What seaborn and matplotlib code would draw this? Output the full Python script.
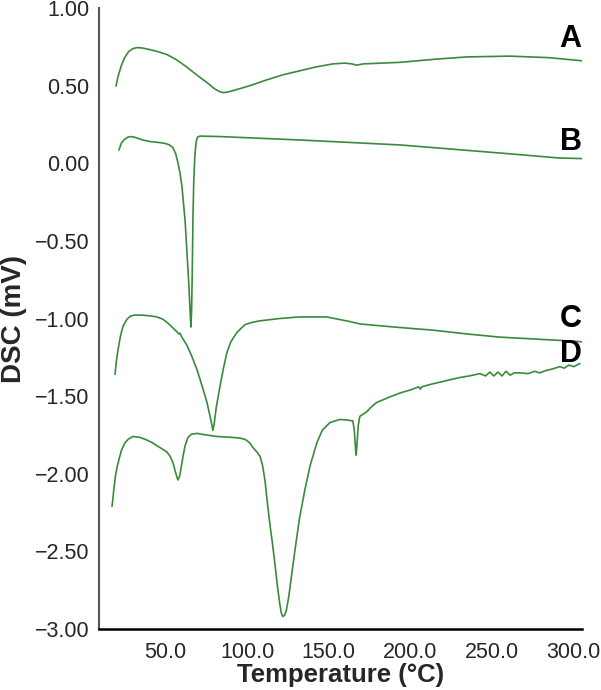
import numpy as np
import pandas as pd
import matplotlib
matplotlib.use("Agg")
from matplotlib import pyplot as plt
from matplotlib.ticker import FuncFormatter
import seaborn as sns

# DSC traces: temperature (°C) and signal (mV)
temp_A = [19.7, 21.0, 23.0, 25.0, 27.5, 30.0, 32.5, 36.0, 40.0, 45.0, 51.0, 57.0,
          63.0, 69.0, 75.4, 80.0, 83.0, 85.2, 88.0, 92.0, 97.0, 101.7, 112.0,
          122.0, 132.0, 142.0, 152.5, 160.0, 164.0, 167.0, 171.0, 193.5, 215.0,
          234.5, 261.0, 285.0, 305.0]
dsc_A = [0.497, 0.56, 0.63, 0.68, 0.72, 0.738, 0.745, 0.742, 0.733, 0.72, 0.70,
         0.665, 0.62, 0.57, 0.52, 0.48, 0.462, 0.455, 0.458, 0.47, 0.485, 0.50,
         0.537, 0.57, 0.595, 0.62, 0.64, 0.645, 0.64, 0.632, 0.64, 0.65, 0.67,
         0.685, 0.69, 0.68, 0.66]

temp_B = [21.5, 23.0, 25.0, 27.0, 29.0, 32.0, 36.0, 40.5, 46.6, 50.0, 52.5, 54.6,
          56.3, 57.7, 59.0, 60.1, 62.0, 63.2, 64.4, 65.2, 65.6, 66.0, 66.4, 66.8,
          67.3, 68.0, 68.8, 69.6, 71.1, 83.4, 132.0, 193.5, 254.7, 291.0, 305.0]
dsc_B = [0.085, 0.13, 0.155, 0.168, 0.172, 0.165, 0.15, 0.14, 0.133, 0.127, 0.118,
         0.10, 0.06, 0.0, -0.07, -0.15, -0.37, -0.58, -0.80, -0.98, -1.055, -0.95,
         -0.70, -0.37, -0.12, 0.05, 0.14, 0.168, 0.175, 0.172, 0.15, 0.118, 0.066,
         0.034, 0.03]

temp_C = [19.1, 20.0, 21.0, 22.5, 24.0, 26.4, 28.5, 31.0, 35.0, 40.0, 44.8, 48.5,
          51.5, 54.5, 57.0, 58.2, 59.0, 60.0, 63.0, 66.0, 69.3, 72.0, 75.4, 77.5,
          78.5, 79.0, 79.8, 81.0, 83.3, 85.5, 87.6, 90.0, 93.7, 98.6, 103.0, 107.8,
          120.0, 132.0, 148.8, 163.0, 169.0, 190.0, 213.7, 235.0, 254.7, 289.6,
          305.0]
dsc_C = [-1.36, -1.27, -1.20, -1.11, -1.05, -1.005, -0.985, -0.978, -0.978, -0.982,
         -0.99, -1.005, -1.03, -1.06, -1.085, -1.10, -1.095, -1.12, -1.17, -1.24,
         -1.33, -1.42, -1.54, -1.64, -1.69, -1.72, -1.68, -1.58, -1.44, -1.32,
         -1.22, -1.15, -1.09, -1.04, -1.025, -1.015, -1.0, -0.99, -0.99, -1.02,
         -1.035, -1.055, -1.075, -1.10, -1.12, -1.14, -1.15]

temp_D = [17.3, 18.3, 19.3, 20.3, 21.5, 23.0, 25.2, 27.5, 30.1, 34.0, 38.0, 42.0,
          44.8, 48.0, 50.9, 53.0, 54.6, 56.0, 57.6, 58.6, 59.6, 60.7, 62.0, 63.8,
          66.0, 69.3, 75.0, 81.5, 90.0, 95.6, 99.0, 101.5, 103.5, 106.0, 108.0,
          109.5, 111.0, 112.5, 114.0, 115.5, 117.0, 118.5, 120.0, 121.0, 121.9,
          123.0, 124.0, 125.5, 127.0, 129.3, 132.0, 135.4, 138.5, 142.7, 146.0,
          150.7, 156.8, 162.0, 164.7, 165.6, 166.3, 166.7, 167.2, 168.0, 169.0,
          173.3, 176.0, 179.4, 184.0, 187.4, 193.5, 200.0, 205.0, 206.0, 207.0,
          212.0, 218.0, 224.0, 230.2, 236.0, 242.5, 246.0, 248.5, 251.0, 253.5,
          256.0, 258.5, 261.0, 263.5, 267.0, 272.0, 276.0, 279.0, 283.0, 287.0,
          291.4, 294.0, 297.0, 300.0, 303.7]
dsc_D = [-2.21, -2.11, -2.02, -1.96, -1.91, -1.85, -1.80, -1.775, -1.76, -1.765,
         -1.78, -1.80, -1.82, -1.84, -1.86, -1.89, -1.93, -1.985, -2.04, -2.02,
         -1.96, -1.89, -1.82, -1.765, -1.745, -1.74, -1.75, -1.76, -1.765, -1.77,
         -1.78, -1.80, -1.83, -1.86, -1.89, -1.95, -2.05, -2.20, -2.33, -2.45,
         -2.58, -2.72, -2.84, -2.90, -2.92, -2.91, -2.88, -2.79, -2.67, -2.49,
         -2.29, -2.10, -1.95, -1.80, -1.72, -1.67, -1.65, -1.655, -1.66, -1.72,
         -1.83, -1.88, -1.82, -1.69, -1.63, -1.60, -1.57, -1.54, -1.52, -1.505,
         -1.48, -1.46, -1.44, -1.455, -1.44, -1.425, -1.41, -1.395, -1.38, -1.37,
         -1.355, -1.37, -1.345, -1.37, -1.345, -1.37, -1.34, -1.365, -1.35, -1.35,
         -1.355, -1.34, -1.35, -1.335, -1.325, -1.31, -1.32, -1.30, -1.31, -1.29]

curve_names = ["A", "B", "C", "D"]
label_y = [0.80, 0.136, -1.00, -1.23]

x_ticks = [50, 100, 150, 200, 250, 300]
y_ticks = [-3.0, -2.5, -2.0, -1.5, -1.0, -0.5, 0.0, 0.5, 1.0]

frames = []
for name, t, s in zip(curve_names, [temp_A, temp_B, temp_C, temp_D],
                      [dsc_A, dsc_B, dsc_C, dsc_D]):
    frames.append(pd.DataFrame({"temp": t, "dsc": s, "sample": name}))
df = pd.concat(frames, ignore_index=True)

sns.set_style("white")
plt.rcParams["font.family"] = ["Liberation Sans", "DejaVu Sans"]
plt.rcParams["axes.unicode_minus"] = True

fig = plt.figure(figsize=(6.01, 6.90), dpi=100)
ax = fig.add_axes([0.1647, 0.0884, 0.8037, 0.900])

green = "#3b8a3b"
sns.lineplot(data=df, x="temp", y="dsc", units="sample", estimator=None,
             sort=False, color=green, linewidth=1.2, ax=ax)

for name, ly in zip(curve_names, label_y):
    ax.text(298, ly, name, fontsize=22, fontweight="bold",
            ha="center", va="center", color="black")

ax.set_xlim(9.3, 305)
ax.set_ylim(-3.0, 1.0)
ax.set_xticks(x_ticks)
ax.set_yticks(y_ticks)
ax.xaxis.set_major_formatter(FuncFormatter(lambda v, p: f"{v:.1f}"))
ax.yaxis.set_major_formatter(
    FuncFormatter(lambda v, p: f"{v:.2f}".replace("-", "\u2212")))

ax.tick_params(axis="x", direction="in", length=8, width=1.0, color="#555555",
               labelsize=15.5, pad=9)
ax.tick_params(axis="y", direction="in", length=7, width=1.0, color="#555555",
               labelsize=15.5, pad=7)

for side in ["top", "right"]:
    ax.spines[side].set_visible(False)
ax.spines["left"].set_color("#555555")
ax.spines["left"].set_linewidth(1.5)
ax.spines["bottom"].set_color("black")
ax.spines["bottom"].set_linewidth(1.8)

ax.set_xlabel("Temperature (°C)", fontsize=18.5, fontweight="bold")
ax.xaxis.set_label_coords(0.5, -0.054)
ax.set_ylabel("DSC (mV)", fontsize=20, fontweight="bold")
ax.yaxis.set_label_coords(-0.149, 0.5)

plt.savefig("out.png", dpi=100)
